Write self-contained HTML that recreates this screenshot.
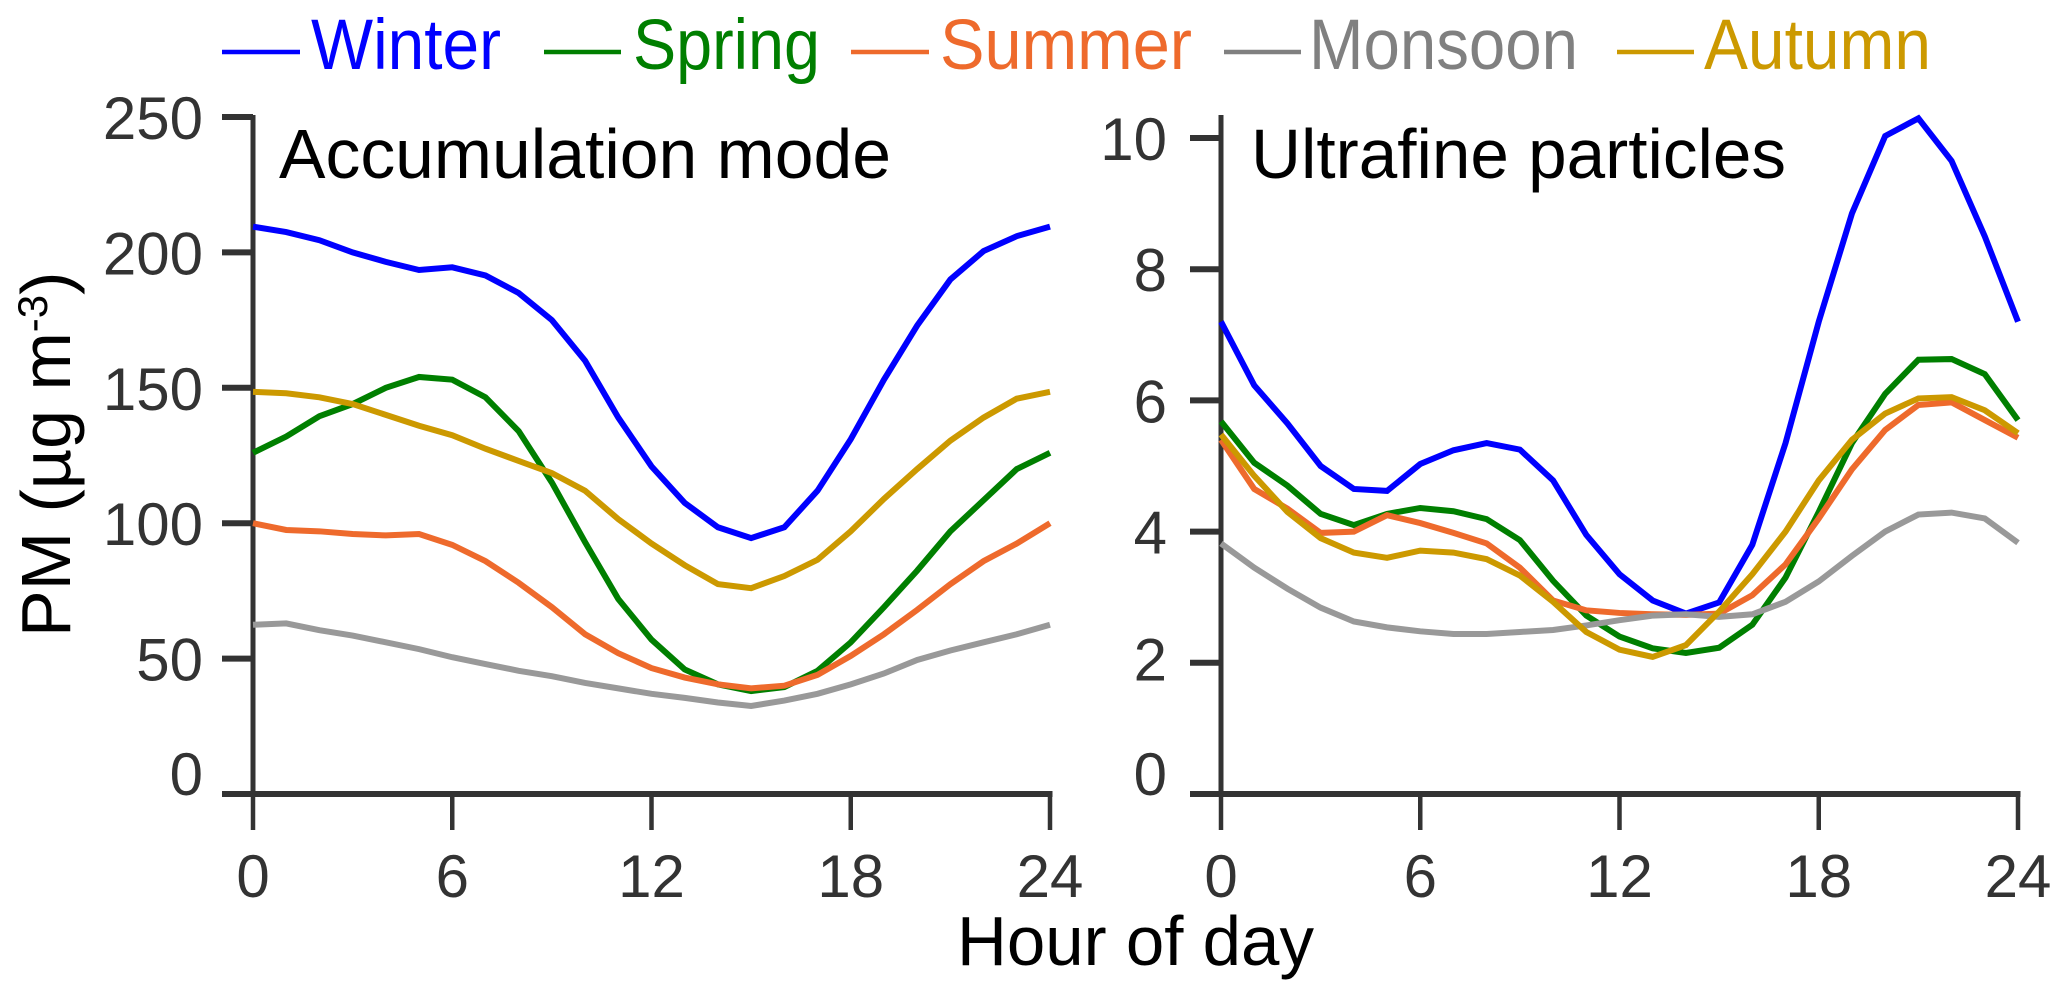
<!DOCTYPE html>
<html lang="en">
<head>
<meta charset="utf-8">
<title>PM diurnal profiles</title>
<style>
html,body{margin:0;padding:0;background:#fff;width:2067px;height:998px;overflow:hidden}
svg{display:block}
text{font-family:"Liberation Sans",sans-serif}
</style>
</head>
<body>
<svg id="chart" xmlns="http://www.w3.org/2000/svg" width="2067" height="998" viewBox="0 0 2067 998">
  <g>
    <g>
      <line x1="222" x2="300" y1="52" y2="52" stroke="#0000ff" stroke-width="4.5"/>
      <text x="311" y="69" font-size="71" fill="#0000ff" textLength="190" lengthAdjust="spacingAndGlyphs">Winter</text>
    </g>
    <g>
      <line x1="544" x2="621" y1="52" y2="52" stroke="#007f00" stroke-width="4.5"/>
      <text x="633" y="69" font-size="71" fill="#007f00" textLength="187" lengthAdjust="spacingAndGlyphs">Spring</text>
    </g>
    <g>
      <line x1="851" x2="929" y1="52" y2="52" stroke="#ee6a2c" stroke-width="4.5"/>
      <text x="940" y="69" font-size="71" fill="#ee6a2c" textLength="252" lengthAdjust="spacingAndGlyphs">Summer</text>
    </g>
    <g>
      <line x1="1224" x2="1301" y1="52" y2="52" stroke="#808080" stroke-width="4.5"/>
      <text x="1309" y="69" font-size="71" fill="#808080" textLength="269" lengthAdjust="spacingAndGlyphs">Monsoon</text>
    </g>
    <g>
      <line x1="1617" x2="1694" y1="52" y2="52" stroke="#cc9900" stroke-width="4.5"/>
      <text x="1704" y="69" font-size="71" fill="#cc9900" textLength="227" lengthAdjust="spacingAndGlyphs">Autumn</text>
    </g>
  </g>
  <text transform="translate(70,637) rotate(-90)" font-size="70" fill="#000">PM (µg m<tspan dy="-23" font-size="42">-3</tspan><tspan dy="23">)</tspan></text>
  <text x="957" y="965" font-size="70" fill="#000" textLength="357" lengthAdjust="spacingAndGlyphs">Hour of day</text>
  <text x="279" y="178" font-size="70" fill="#000" textLength="612" lengthAdjust="spacingAndGlyphs">Accumulation mode</text>
  <text x="1251" y="178" font-size="70" fill="#000" textLength="535" lengthAdjust="spacingAndGlyphs">Ultrafine particles</text>
</svg>
<script>
const hours = [0,1,2,3,4,5,6,7,8,9,10,11,12,13,14,15,16,17,18,19,20,21,22,23,24];
const xTickValues = [0,6,12,18,24];
const leftYTicks = [0,50,100,150,200,250];
const rightYTicks = [0,2,4,6,8,10];

const accWinter = [209.5,207.5,204.5,200,196.5,193.5,194.5,191.5,185,175,160,139,121,107.5,98.5,94.5,98.5,112,131,153,173,190,200.5,206,209.5];
const accSpring = [126,132,139.5,144,150,154,153,146.5,134,115,93,72,57,46,40.5,38,39.5,45.5,56,69,82.5,97,108.5,120,126];
const accSummer = [100,97.5,97,96,95.5,96,92,86,78,69,59,52,46.5,43,40.5,39,40,44,51,59,68,77.5,86,92.5,100];
const accMonsoon = [62.5,63,60.5,58.5,56,53.5,50.5,48,45.5,43.5,41,39,37,35.5,33.8,32.5,34.5,37,40.5,44.5,49.5,53,56,59,62.5];
const accAutumn = [148.5,148,146.5,144,140,136,132.5,127.5,123,118.5,112,101.5,92.5,84.5,77.5,76,80.5,86.5,97,109,120,130.5,139,146,148.5];

const ufpWinter = [7.2,6.23,5.65,5.0,4.65,4.62,5.03,5.24,5.35,5.25,4.78,3.95,3.35,2.95,2.75,2.92,3.8,5.35,7.2,8.85,10.03,10.3,9.65,8.5,7.2];
const ufpSpring = [5.68,5.05,4.7,4.27,4.1,4.27,4.36,4.31,4.19,3.87,3.25,2.72,2.4,2.22,2.15,2.23,2.58,3.3,4.3,5.35,6.1,6.62,6.63,6.4,5.7];
const ufpSummer = [5.4,4.65,4.35,3.98,4.0,4.25,4.13,3.98,3.82,3.45,2.95,2.8,2.76,2.74,2.73,2.75,3.03,3.5,4.2,4.95,5.55,5.93,5.97,5.7,5.43];
const ufpMonsoon = [3.82,3.45,3.13,2.84,2.63,2.54,2.48,2.44,2.44,2.47,2.5,2.57,2.65,2.72,2.74,2.7,2.74,2.93,3.24,3.63,4.0,4.26,4.29,4.2,3.83];
const ufpAutumn = [5.48,4.85,4.3,3.9,3.68,3.6,3.71,3.68,3.58,3.33,2.93,2.47,2.2,2.09,2.27,2.78,3.35,4.0,4.78,5.4,5.8,6.03,6.05,5.85,5.5];

const NS = 'http://www.w3.org/2000/svg';
const svg = document.getElementById('chart');
const AXIS = '#333333';

function mk(parent, tag, attrs, txt) {
  const e = document.createElementNS(NS, tag);
  for (const k in attrs) e.setAttribute(k, attrs[k]);
  if (txt !== undefined) e.textContent = txt;
  parent.appendChild(e);
  return e;
}

function baselineOffset(p, t) {
  if (t === 0) return 1;
  if (p.name === 'ultrafine' && t === 2) return 17.5;
  return 22;
}

function drawPanel(p) {
  const sx = v => p.x0 + (v / 24) * (p.x1 - p.x0);
  const sy = v => p.y0 + (v / p.yMax) * (p.yTop - p.y0);

  const g = mk(svg, 'g', {});
  
  

  const yAxis = mk(g, 'line', {x1: p.x0, x2: p.x0, y1: p.spineTop, y2: p.y0, stroke: AXIS, 'stroke-width': 5});
  
  

  const xAxis = mk(g, 'line', {x1: p.x0 - 31, x2: p.x1 + 2.5, y1: p.y0, y2: p.y0, stroke: AXIS, 'stroke-width': 6});
  
  

  p.yTicks.forEach(t => {
    const y = sy(t);
    const tick = mk(g, 'line', {x1: p.x0 - 31, x2: p.x0, y1: y, y2: y, stroke: AXIS, 'stroke-width': 6});
    
    
    const lab = mk(g, 'text', {x: p.x0 - p.labelGap, y: y + baselineOffset(p, t), 'text-anchor': 'end', 'font-size': 60, fill: AXIS}, String(t));
    
    
  });

  xTickValues.forEach(t => {
    const x = sx(t);
    const tick = mk(g, 'line', {x1: x, x2: x, y1: p.y0, y2: 830, stroke: AXIS, 'stroke-width': 4.5});
    
    
    const lab = mk(g, 'text', {x: x, y: 897, 'text-anchor': 'middle', 'font-size': 60, fill: AXIS}, String(t));
    
    
  });

  p.series.forEach(s => {
    const pts = hours.map((h, i) => sx(h).toFixed(2) + ',' + sy(s.values[i]).toFixed(2)).join(' ');
    const line = mk(g, 'polyline', {points: pts, fill: 'none', stroke: s.color, 'stroke-width': 6, 'stroke-linejoin': 'miter'});
    
    
  });
}

drawPanel({
  name: 'accumulation', x0: 253, x1: 1050, y0: 794, yTop: 117, spineTop: 115, yMax: 250, yTicks: leftYTicks, labelGap: 50,
  series: [
    {label: 'winter', color: '#0000ff', values: accWinter},
    {label: 'spring', color: '#007f00', values: accSpring},
    {label: 'summer', color: '#ee6a2c', values: accSummer},
    {label: 'monsoon', color: '#999999', values: accMonsoon},
    {label: 'autumn', color: '#cc9900', values: accAutumn}
  ]
});
drawPanel({
  name: 'ultrafine', x0: 1221, x1: 2018, y0: 794, yTop: 138, spineTop: 115, yMax: 10, yTicks: rightYTicks, labelGap: 54,
  series: [
    {label: 'winter', color: '#0000ff', values: ufpWinter},
    {label: 'spring', color: '#007f00', values: ufpSpring},
    {label: 'summer', color: '#ee6a2c', values: ufpSummer},
    {label: 'monsoon', color: '#999999', values: ufpMonsoon},
    {label: 'autumn', color: '#cc9900', values: ufpAutumn}
  ]
});
</script>
</body>
</html>
